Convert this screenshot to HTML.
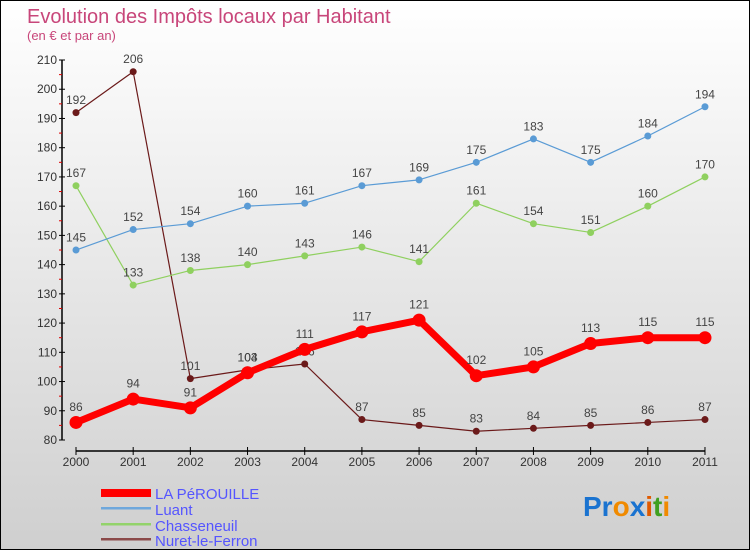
<!DOCTYPE html>
<html><head><meta charset="utf-8"><style>
html,body{margin:0;padding:0}
body{width:750px;height:550px;overflow:hidden;font-family:"Liberation Sans",sans-serif}
#wrap{position:relative;width:748px;height:548px;border:1px solid #000;background:linear-gradient(#ffffff,#cfcfcf)}
svg text{font-family:"Liberation Sans",sans-serif}
</style></head><body>
<div id="wrap">
<svg id="chart" width="748" height="548">
<text x="26" y="22" font-size="20" fill="#c8467a">Evolution des Impôts locaux par Habitant</text>
<text x="26" y="39" font-size="13" fill="#c8467a">(en € et par an)</text>
<g id="axes"></g><g id="series"></g>
<g>
<rect x="100" y="488" width="50" height="8" fill="#f00"/>
<text x="154" y="498" font-size="15" fill="#5555ff">LA PéROUILLE</text>
<rect x="100" y="506" width="50" height="2.5" fill="#6fa8dc"/>
<text x="154" y="514" font-size="15" fill="#5555ff">Luant</text>
<rect x="100" y="522" width="50" height="2.5" fill="#93d36b"/>
<text x="154" y="530" font-size="15" fill="#5555ff">Chasseneuil</text>
<rect x="100" y="537" width="50" height="2.5" fill="#8b4a4a"/>
<text x="154" y="545" font-size="15" fill="#5555ff">Nuret-le-Ferron</text>
</g>
<text x="582" y="515" font-size="28" font-weight="bold"><tspan fill="#1a73d0">Pr</tspan><tspan fill="#f08a00">o</tspan><tspan fill="#1a73d0">x</tspan><tspan fill="#e05a00">i</tspan><tspan fill="#40a020">t</tspan><tspan fill="#f08a00">i</tspan></text>
</svg></div>
<script>
const years=["2000","2001","2002","2003","2004","2005","2006","2007","2008","2009","2010","2011"];
const yTicks=[80,90,100,110,120,130,140,150,160,170,180,190,200,210];
const perouille=[86,94,91,103,111,117,121,102,105,113,115,115];
const luant=[145,152,154,160,161,167,169,175,183,175,184,194];
const chasseneuil=[167,133,138,140,143,146,141,161,154,151,160,170];
const nuret=[192,206,101,104,106,87,85,83,84,85,86,87];
const NS="http://www.w3.org/2000/svg";
const X=i=>75+i*57.18, Y=v=>439-(v-80)*2.923;
function mk(t,a,p){const e=document.createElementNS(NS,t);for(const k in a)e.setAttribute(k,a[k]);p.appendChild(e);return e;}
const ax=document.getElementById('axes'), se=document.getElementById('series');
const yl=mk('line',{x1:61,y1:Y(210),x2:61,y2:Y(80),stroke:'#000','stroke-width':1.5},ax);


yTicks.forEach((v,k)=>{mk('line',{x1:58,y1:Y(v),x2:64,y2:Y(v),stroke:'#000'},ax);
if(k<yTicks.length-1)mk('line',{x1:58,y1:Y(v+5),x2:61,y2:Y(v+5),stroke:'#d00'},ax);
const t=mk('text',{x:56,y:Y(v)+4,'font-size':12,fill:'#333','text-anchor':'end'},ax);t.textContent=v;

});
const xl=mk('line',{x1:X(0),y1:450,x2:X(11),y2:450,stroke:'#000','stroke-width':1.5},ax);


years.forEach((y,i)=>{mk('line',{x1:X(i),y1:446,x2:X(i),y2:454,stroke:'#000'},ax);
const t=mk('text',{x:X(i),y:465,'font-size':12,fill:'#333','text-anchor':'middle'},ax);t.textContent=y;

});
function draw(d,col,w,r,name){const g=mk('g',{},se);


mk('polyline',{points:d.map((v,i)=>X(i)+','+Y(v)).join(' '),fill:'none',stroke:col,'stroke-width':w,'stroke-linejoin':'round'},g);
d.forEach((v,i)=>{const c=mk('circle',{cx:X(i),cy:Y(v),r:r,fill:col},g);


const t=mk('text',{x:X(i),y:Y(v)-(r+5),'font-size':12,fill:'#444','text-anchor':'middle'},g);t.textContent=v;

});}
draw(nuret,'#6b1a1a',1.2,3.5,'nuret-le-ferron');
draw(chasseneuil,'#8fd05f',1.2,3.5,'chasseneuil');
draw(luant,'#5a9bd5',1.2,3.5,'luant');
draw(perouille,'#f00',7,6.5,'la-perouille');
</script></body></html>
